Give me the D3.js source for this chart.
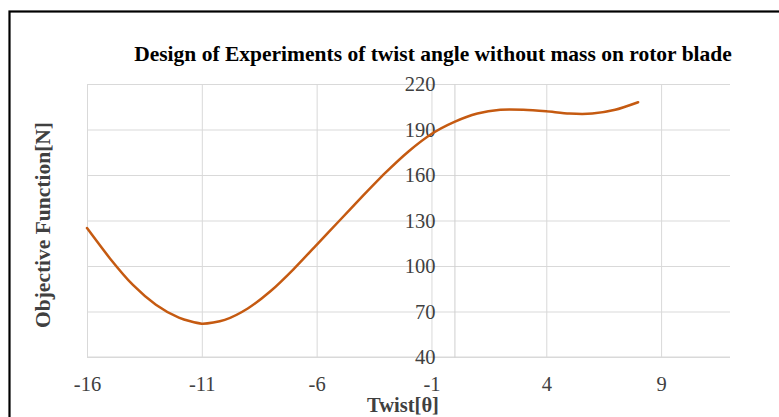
<!DOCTYPE html>
<html>
<head>
<meta charset="utf-8">
<script src="https://cdn.jsdelivr.net/npm/d3@7/dist/d3.min.js"></script>
<style>
  html, body { margin: 0; padding: 0; background: #fff; }
  svg { display: block; }
  .serif { font-family: "Liberation Serif", "Times New Roman", serif; }
</style>
</head>
<body>
<svg id="chart" width="779" height="417"></svg>
<script>
// Twist angle sweep (degrees) and the resulting objective function (N)
const twist = [-16, -15, -14, -13, -12, -11, -10, -9, -8, -7, -6, -5, -4, -3, -2, -1, 0, 1, 2, 3, 4, 5, 6, 7, 8];
const objective = [125, 105, 87.5, 74.5, 66, 62, 64.5, 72, 83.5, 98, 114, 130, 146, 161.5, 175.5, 187, 195, 200.5, 203, 203, 202, 200.5, 200.5, 203, 208];

const xTicks = [-16, -11, -6, -1, 4, 9];
const yTicks = [40, 70, 100, 130, 160, 190, 220];

const titleText = "Design of Experiments of twist angle without mass on rotor blade";
const xTitle = "Twist[θ]";
const yTitle = "Objective Function[N]";

const svg = d3.select("#chart");
const plotLeft = 87, plotRight = 730, plotTop = 84, plotBottom = 357;

const x = d3.scaleLinear().domain([-16, 12]).range([plotLeft, plotRight]);
const y = d3.scaleLinear().domain([40, 220]).range([plotBottom, plotTop]);

const gridColor = "#d9d9d9";
const labelColor = "#404040";

// outer frame
svg.append("rect")
  .attr("x", 9.5).attr("y", 11.5)
  .attr("width", 800).attr("height", 420)
  .attr("fill", "none").attr("stroke", "#000").attr("stroke-width", 2.2);

// horizontal gridlines
const yGrid = svg.append("g")
  .attr("transform", `translate(${plotLeft},0)`)
  .call(d3.axisLeft(y).tickValues(yTicks).tickSize(-(plotRight - plotLeft)).tickFormat(""));
yGrid.select(".domain").remove();
yGrid.selectAll("line").attr("stroke", gridColor).attr("stroke-width", 1);

// x axis: vertical gridlines + labels
const xAxis = svg.append("g")
  .attr("transform", `translate(0,${plotBottom})`)
  .call(d3.axisBottom(x).tickValues(xTicks).tickSize(-(plotBottom - plotTop)).tickPadding(19));
xAxis.select(".domain").attr("stroke", gridColor).attr("d", `M${plotLeft},0H${plotRight}`);
xAxis.selectAll("line").attr("stroke", gridColor).attr("stroke-width", 1);
xAxis.selectAll("text")
  .attr("class", "serif")
  .attr("font-size", 20.5)
  .attr("fill", labelColor)
  .text(d => String(d));

// y axis at twist = 0 with labels to its left
const yAxis = svg.append("g")
  .attr("transform", `translate(${x(0)},0)`)
  .call(d3.axisLeft(y).tickValues(yTicks).tickSize(0).tickPadding(19));
yAxis.select(".domain").attr("stroke", "#cfcfcf").attr("stroke-width", 1);
yAxis.selectAll("text")
  .attr("class", "serif")
  .attr("font-size", 20.5)
  .attr("fill", labelColor);

// data line
const line = d3.line()
  .x((d, i) => x(twist[i]))
  .y(d => y(d))
  .curve(d3.curveCardinal.tension(0.3));

svg.append("path")
  .datum(objective)
  .attr("d", line)
  .attr("fill", "none")
  .attr("stroke", "#c55a11")
  .attr("stroke-width", 2.5)
  .attr("stroke-linejoin", "round")
  .attr("stroke-linecap", "round");

// titles
svg.append("text")
  .attr("class", "serif")
  .attr("x", 433).attr("y", 61)
  .attr("text-anchor", "middle")
  .attr("font-size", 21.5).attr("font-weight", "bold")
  .attr("fill", "#000")
  .text(titleText);

svg.append("text")
  .attr("class", "serif")
  .attr("x", 403).attr("y", 411.5)
  .attr("text-anchor", "middle")
  .attr("font-size", 20.5).attr("font-weight", "bold")
  .attr("fill", labelColor)
  .text(xTitle);

svg.append("text")
  .attr("class", "serif")
  .attr("transform", "translate(50,225) rotate(-90)")
  .attr("text-anchor", "middle")
  .attr("font-size", 21.5).attr("font-weight", "bold")
  .attr("fill", labelColor)
  .text(yTitle);
</script>
</body>
</html>
